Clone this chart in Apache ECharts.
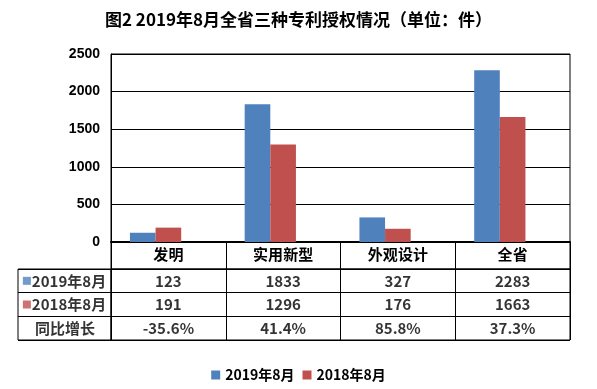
<!DOCTYPE html>
<html><head><meta charset="utf-8">
<script src="https://cdn.jsdelivr.net/npm/echarts@6/dist/echarts.min.js"></script>
<style>html,body{margin:0;padding:0;background:#fff}#c{width:597px;height:389px}</style>
</head><body><div id="c"></div>
<script>
const title = '图2 2019年8月全省三种专利授权情况（单位：件）';
const categories = ['发明', '实用新型', '外观设计', '全省'];
const seriesNames = ['2019年8月', '2018年8月'];
const values2019 = [123, 1833, 327, 2283];
const values2018 = [191, 1296, 176, 1663];
const growthName = '同比增长';
const growthRatio = [-0.356, 0.414, 0.858, 0.373];
const growthLabels = ['-35.6%', '41.4%', '85.8%', '37.3%'];
const yTicks = [0, 500, 1000, 1500, 2000, 2500];
const colors = ['#4F81BD', '#C0504D'];

const CJK = '"Noto Sans CJK SC", "Liberation Sans", sans-serif';
const rowNames = [seriesNames[0], seriesNames[1], growthName];
const rowTexts = [values2019.map(String), values2018.map(String), growthLabels];

const cellData = [];
rowTexts.forEach((row, r) => row.forEach((t, c) => cellData.push([c, r, t])));
const headData = rowNames.map((n, r) => [0, r, r]);
const TF = 15;

const chart = echarts.init(document.getElementById('c'));
chart.setOption({
  animation: false,
  title: {
    text: title, left: 'center', top: 6,
    textStyle: { fontFamily: CJK, fontSize: 17, fontWeight: 'bold', color: '#000' }
  },
  legend: {
    data: seriesNames, left: 'center', top: 363,
    itemWidth: 9, itemHeight: 9, itemGap: 8, icon: 'rect',
    textStyle: { fontFamily: CJK, fontSize: 14, fontWeight: 'bold', color: '#000' }
  },
  grid: [
    { left: 111, right: 27, top: 54, bottom: 147, show: true, borderColor: '#000', borderWidth: 1 },
    { left: 111, right: 27, top: 242, height: 27, show: true, borderColor: '#000', borderWidth: 1 },
    { left: 111, right: 27, top: 269, height: 71, show: true, borderColor: '#000', borderWidth: 1 },
    { left: 18, width: 93, top: 269, height: 71, show: true, borderColor: '#000', borderWidth: 1 }
  ],
  xAxis: [
    { gridIndex: 0, type: 'category', data: categories,
      axisLine: { lineStyle: { color: '#000', width: 2 } }, axisTick: { show: false },
      axisLabel: { margin: 5, fontFamily: CJK, fontSize: TF, fontWeight: 'bold', color: '#000' } },
    { gridIndex: 1, type: 'category', data: categories, axisLine: { show: false }, axisTick: { show: false },
      axisLabel: { show: false }, splitLine: { show: true, lineStyle: { color: '#000', width: 1 } } },
    { gridIndex: 2, type: 'category', data: categories, axisLine: { show: false }, axisTick: { show: false },
      axisLabel: { show: false }, splitLine: { show: true, lineStyle: { color: '#000', width: 1 } } },
    { gridIndex: 3, type: 'category', data: ['h'], axisLine: { show: false }, axisTick: { show: false },
      axisLabel: { show: false } }
  ],
  yAxis: [
    { gridIndex: 0, type: 'value', min: yTicks[0], max: yTicks[yTicks.length - 1], interval: yTicks[1] - yTicks[0],
      axisLine: { show: true, lineStyle: { color: '#000' } }, axisTick: { show: false },
      splitLine: { lineStyle: { color: '#000', width: 1 } },
      axisLabel: { margin: 11, formatter: v => String(v), fontFamily: '"Liberation Sans", Arial, sans-serif', fontSize: 14, fontWeight: 'bold', color: '#000' } },
    { gridIndex: 1, type: 'value', show: false },
    { gridIndex: 2, type: 'category', data: rowNames, inverse: true, axisLine: { show: false }, axisTick: { show: false },
      axisLabel: { show: false }, splitLine: { show: true, lineStyle: { color: '#000', width: 1 } } },
    { gridIndex: 3, type: 'category', data: rowNames, inverse: true, axisLine: { show: false }, axisTick: { show: false },
      axisLabel: { show: false }, splitLine: { show: true, lineStyle: { color: '#000', width: 1 } } }
  ],
  series: [
    { name: seriesNames[0], type: 'bar', data: values2019, itemStyle: { color: colors[0] },
      barGap: '0%', barCategoryGap: '33%' },
    { name: seriesNames[1], type: 'bar', data: values2018, itemStyle: { color: colors[1] },
      barGap: '0%', barCategoryGap: '33%' },
    { name: growthName, type: 'bar', data: growthRatio, itemStyle: { color: 'rgba(0,0,0,0)' },
      barGap: '0%', barCategoryGap: '33%', silent: true },
    { type: 'scatter', xAxisIndex: 2, yAxisIndex: 2, data: cellData, symbolSize: 1,
      itemStyle: { color: 'rgba(0,0,0,0)' }, silent: true,
      label: { show: true, position: 'inside', formatter: p => p.value[2],
        fontFamily: CJK, fontSize: TF, fontWeight: 'bold', color: '#000' } },
    { type: 'scatter', xAxisIndex: 3, yAxisIndex: 3, data: headData, symbolSize: 1,
      itemStyle: { color: 'rgba(0,0,0,0)' }, silent: true,
      label: { show: true, position: 'inside',
        formatter: p => p.value[2] < 2 ? '{s' + p.value[2] + '|}{t|' + rowNames[p.value[2]] + '}' : '{t|' + rowNames[p.value[2]] + '}',
        rich: {
          s0: { width: 8, height: 8, backgroundColor: colors[0] },
          s1: { width: 8, height: 8, backgroundColor: colors[1] },
          t: { fontFamily: CJK, fontSize: TF, fontWeight: 'bold', color: '#000', padding: [0, 0, 0, 1] }
        },
        fontFamily: CJK, fontSize: TF, fontWeight: 'bold', color: '#000' } }
  ]
});
</script></body></html>
